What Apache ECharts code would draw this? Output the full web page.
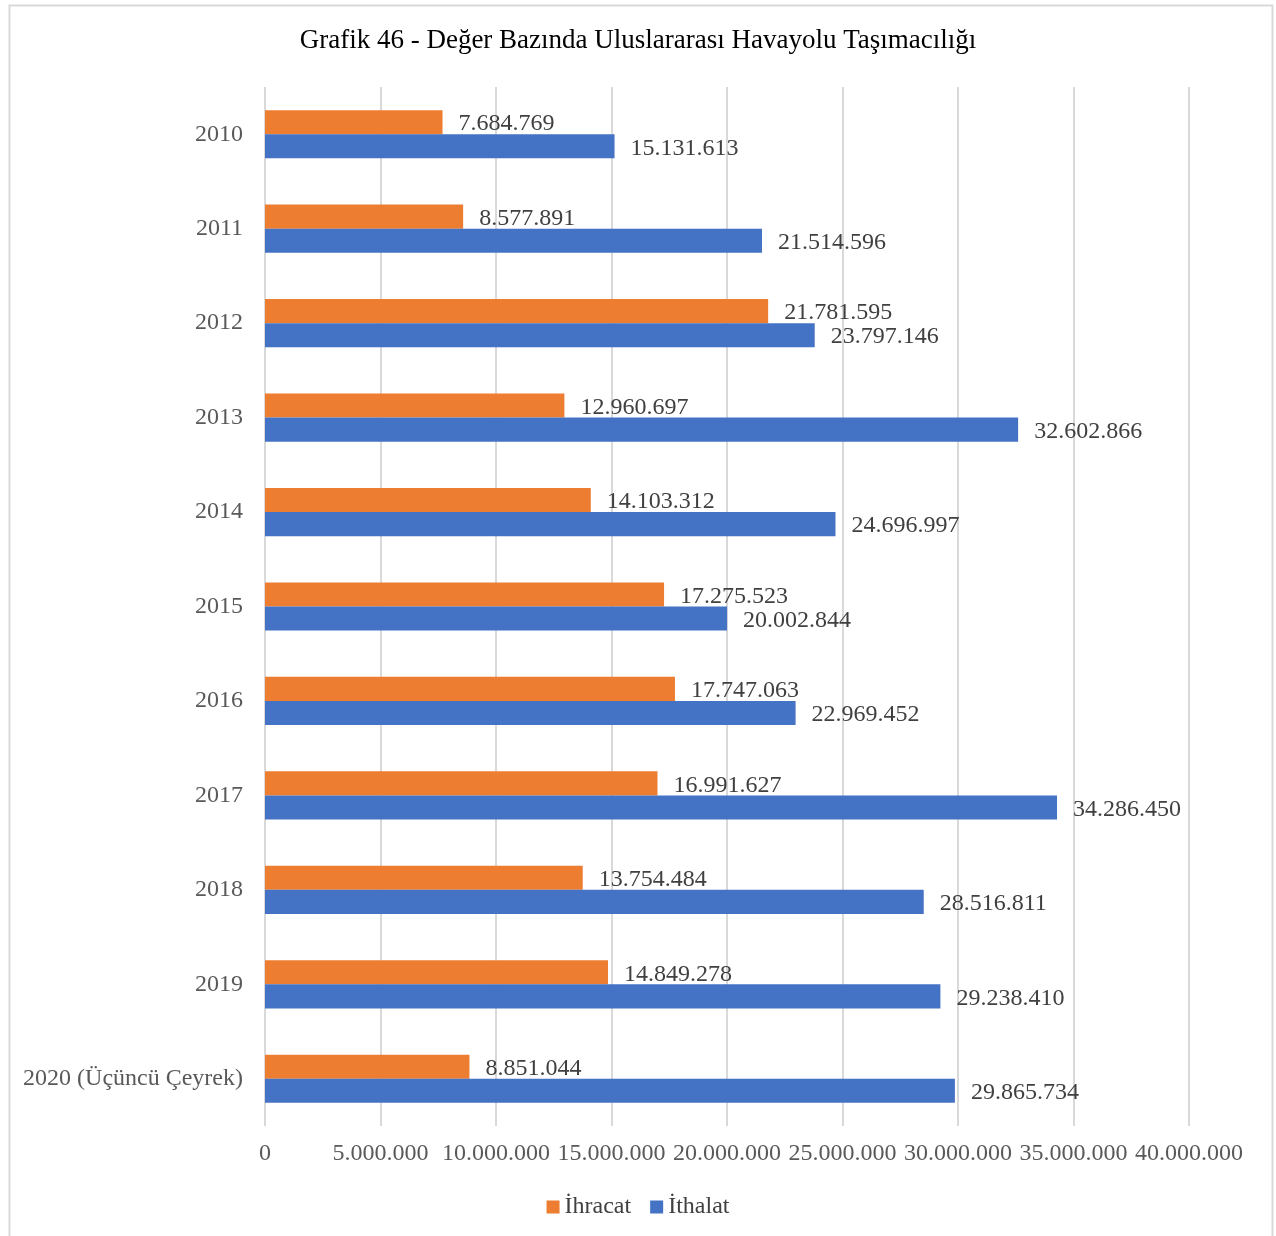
<!DOCTYPE html>
<html>
<head>
<meta charset="utf-8">
<script src="https://cdn.jsdelivr.net/npm/echarts@6/dist/echarts.min.js"></script>
<style>
html,body{margin:0;padding:0;background:#fff;}
#chart{width:1276px;height:1236px;}
</style>
</head>
<body>
<div id="chart"></div>
<script>
const titleText = 'Grafik 46 - Değer Bazında Uluslararası Havayolu Taşımacılığı';
const categories = ['2010','2011','2012','2013','2014','2015','2016','2017','2018','2019','2020 (Üçüncü Çeyrek)'];
const seriesNames = ['İhracat','İthalat'];
const ihracat = [7684769, 8577891, 21781595, 12960697, 14103312, 17275523, 17747063, 16991627, 13754484, 14849278, 8851044];
const ithalat = [15131613, 21514596, 23797146, 32602866, 24696997, 20002844, 22969452, 34286450, 28516811, 29238410, 29865734];
const xMin = 0, xMax = 40000000, xStep = 5000000;

function fmt(v){ return String(Math.round(v)).replace(/\B(?=(\d{3})+(?!\d))/g, '.'); }

const FONT = '"Liberation Serif", "Times New Roman", serif';
const chart = echarts.init(document.getElementById('chart'));
const labelStyle = {
  show: true, position: 'right', distance: 16, offset: [0, 2],
  fontFamily: FONT, fontSize: 24, color: '#404040',
  formatter: p => fmt(p.value)
};
chart.setOption({
  animation: false,
  backgroundColor: '#fff',
  title: {
    text: titleText, left: 'center', top: 22,
    textStyle: { fontFamily: FONT, fontSize: 27, fontWeight: 'normal', color: '#000' }
  },
  legend: {
    top: 1190, left: 'center', itemWidth: 13, itemHeight: 13, itemGap: 19,
    icon: 'rect',
    textStyle: { fontFamily: FONT, fontSize: 24, color: '#404040' },
    data: seriesNames
  },
  grid: { left: 265, right: 87, top: 87, height: 1039, containLabel: false },
  xAxis: {
    type: 'value', min: xMin, max: xMax, interval: xStep,
    axisLine: { show: false }, axisTick: { show: false },
    splitLine: { show: true, lineStyle: { color: '#d9d9d9', width: 2 } },
    axisLabel: { fontFamily: FONT, fontSize: 24, color: '#595959', margin: 16, formatter: v => fmt(v) }
  },
  yAxis: {
    type: 'category', data: categories, inverse: true,
    axisLine: { show: false }, axisTick: { show: false },
    axisLabel: { fontFamily: FONT, fontSize: 24, color: '#595959', margin: 22 }
  },
  graphic: [{
    type: 'rect', left: 7, top: 3, shape: { width: 1263, height: 1240 },
    style: { fill: 'none', stroke: '#d9d9d9', lineWidth: 2 }, silent: true
  }],
  series: [
    { name: seriesNames[0], type: 'bar', data: ihracat, barGap: '0%', barCategoryGap: '49%',
      itemStyle: { color: '#ED7D31' }, label: labelStyle },
    { name: seriesNames[1], type: 'bar', data: ithalat, barGap: '0%', barCategoryGap: '49%',
      itemStyle: { color: '#4472C4' }, label: labelStyle }
  ]
});
</script>
</body>
</html>
